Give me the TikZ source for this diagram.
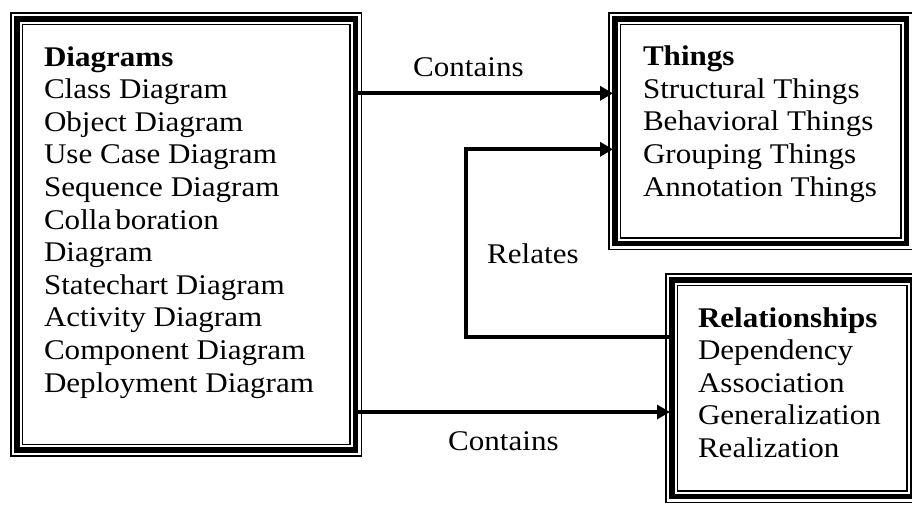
\documentclass[tikz,border=0pt]{standalone}
\usepackage{fontspec}
\setmainfont{Liberation Serif}[FakeStretch=1.09]
\usetikzlibrary{arrows.meta}

\tikzset{
  box/.style={rectangle, draw=none, inner sep=0pt, outer sep=0pt, anchor=north west},
  boxtext/.style={anchor=north west, inner sep=0pt, outer sep=0pt, align=left},
  lbl/.style={anchor=base west, inner sep=0pt},
  conn/.style={line width=4pt, line join=miter, -{Triangle[length=13pt,width=14pt]}},
  thinrule/.style={line width=1.5pt},
  thickrule/.style={line width=5.5pt},
}

% three nested frames: thin, thick, thin
\newcommand\tripleframe[1]{%
  \draw[thinrule] ([shift={(0.75pt,-0.75pt)}]#1.north west) rectangle ([shift={(-0.75pt,0.75pt)}]#1.south east);
  \draw[thickrule] ([shift={(6.75pt,-6.75pt)}]#1.north west) rectangle ([shift={(-6.75pt,6.75pt)}]#1.south east);
  \draw[thinrule] ([shift={(12.25pt,-12.25pt)}]#1.north west) rectangle ([shift={(-12.25pt,12.25pt)}]#1.south east);
}
\newcommand\firststrut{\rule{0pt}{22pt}}

\begin{document}
\begin{tikzpicture}[x=1pt, y=-1pt, font=\fontsize{28.5}{32.6}\selectfont]
  \useasboundingbox (0,0) rectangle (912,506);
  \clip (0,0) rectangle (912,506);

  % frames
  \node[box, minimum width=352pt, minimum height=444.7pt] (dia) at (10,12) {};
  \node[box, minimum width=305pt, minimum height=238pt] (thg) at (608,12) {};
  \node[box, minimum width=254pt, minimum height=229.7pt] (rel) at (665,273.3) {};
  \tripleframe{dia}
  \tripleframe{thg}
  \tripleframe{rel}

  % box contents
  \node[boxtext] (diatext) at (44,44) {\firststrut\textbf{Diagrams}\\
    Class Diagram\\ Object Diagram\\ Use Case Diagram\\ Sequence Diagram\\
    Colla\kern4pt boration\\ Diagram\\ Statechart Diagram\\ Activity Diagram\\
    Component Diagram\\ Deployment Diagram};
  \node[boxtext] (thgtext) at (643,43.7) {\firststrut\textbf{Things}\\
    Structural Things\\ Behavioral Things\\ Grouping Things\\ Annotation Things};
  \node[boxtext] (reltext) at (698,305) {\firststrut\textbf{Relationships}\\
    Dependency\\ Association\\ Generalization\\ Realization};

  % connector levels
  \coordinate (ytop) at (0,93.3);
  \coordinate (ybot) at (0,412);
  \coordinate (yrelA) at (0,336.7);
  \coordinate (yrelB) at (0,149.3);
  \coordinate (xrel) at (466,0);

  % connectors
  \draw[conn] ([xshift=-7pt]dia.east |- ytop) -- ([xshift=5pt]thg.west |- ytop);
  \draw[conn] ([xshift=-7pt]dia.east |- ybot) -- ([xshift=5pt]rel.west |- ybot);
  \draw[conn] ([xshift=5pt]rel.west |- yrelA) -| (xrel |- yrelB) -- ([xshift=5pt]thg.west |- yrelB);

  % connector labels
  \node[lbl] (c1) at (413,76) {Contains};
  \node[lbl] (c2) at (448,450) {Contains};
  \node[lbl] (r1) at (487,263.3) {Relates};
\end{tikzpicture}
\end{document}
